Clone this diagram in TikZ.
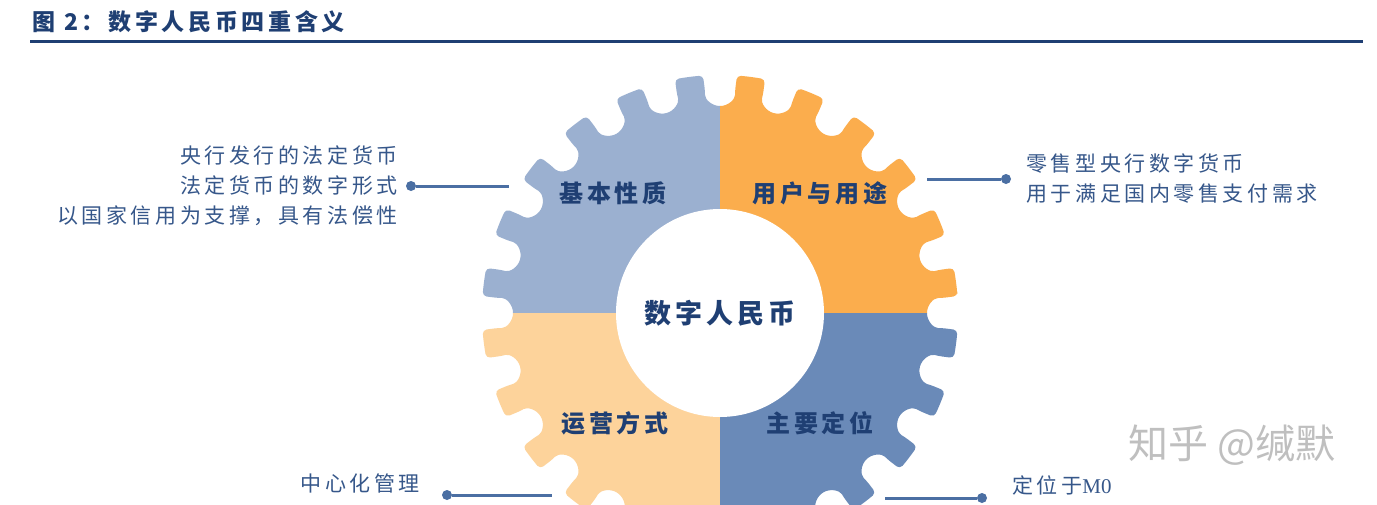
\documentclass[tikz,border=0pt]{standalone}
\usepackage{fontspec}
\usetikzlibrary{positioning,calc}
\newfontfamily\cjk{Noto Sans CJK SC}
\newfontfamily\latn{Liberation Serif}
\definecolor{qblue}{HTML}{9BB0D0}
\definecolor{qorange}{HTML}{FBAD4D}
\definecolor{qpeach}{HTML}{FDD39B}
\definecolor{qdeep}{HTML}{6A8AB8}
\definecolor{navy}{HTML}{1F3F73}
\definecolor{inkblue}{HTML}{36578A}
\definecolor{lnkblue}{HTML}{4B6FA3}
\tikzset{note/.style={inner sep=0pt, text=inkblue, font=\cjk\fontsize{21}{30}\selectfont\addfontfeature{LetterSpace=17}}}
\tikzset{tag/.style={inner sep=0pt, text=navy, font=\cjk\bfseries\fontsize{24}{28}\selectfont\addfontfeature{LetterSpace=15}}}
\tikzset{pin/.style={circle, fill=lnkblue, inner sep=0pt, minimum size=10pt}}
\tikzset{lnk/.style={draw=lnkblue, line width=3pt}}

\begin{document}
\begin{tikzpicture}[x=1pt,y=1pt]
			\useasboundingbox (0,0) rectangle (1377,-504);
			\fill[white] (0,0) rectangle (1377,-504);
			\clip (0,0) rectangle (1377,-504);
			% title
			\node[anchor=west, inner sep=0pt, text=navy, font=\cjk\bfseries\fontsize{23}{26}\selectfont\addfontfeature{LetterSpace=16}] (title) at (32,-22) {图 2：数字人民币四重含义};
			\draw[navy, line width=3pt] (30,-41) -- (1363,-41);
%
			\begin{scope}[shift={(720,-313)}]
				\clip[rounded corners=4pt] (4.1:238pt) \foreach \k in {0,...,23}{
					arc[start angle={15*\k+4.1}, end angle={15*\k+10.9}, radius=238pt]
					-- ({15*\k+11.13}:222.5pt)
					arc[start angle={15*\k-75}, end angle={15*\k-255}, radius=15pt]
					-- ({15*\k+19.1}:238pt)
				} -- cycle;
				\fill[qblue] (-250,0) rectangle (0,250);
				\fill[qorange] (0,0) rectangle (250,250);
				\fill[qpeach] (-250,0) rectangle (0,-250);
				\fill[qdeep] (0,0) rectangle (250,-250);
			\end{scope}
			\node[circle, fill=white, minimum size=208pt, inner sep=0pt, text=navy, font=\cjk\bfseries\fontsize{27}{30}\selectfont\addfontfeature{LetterSpace=15}] (core) at (720,-313) {数字人民币};
%
			\node[tag] (nature) at (613,-193) {基本性质};
			\node[tag] (usage) at (820,-193) {用户与用途};
			\node[tag] (ops) at (615,-423) {运营方式};
			\node[tag] (role) at (820,-423) {主要定位};
%
			\node[pin] (p1) at (411,-186) {};
			\coordinate (g1) at (509,-186);
			\draw[lnk] (p1) -- (g1);
			\node[note, left=8pt of p1, align=right] (t1) {央行发行的法定货币\\法定货币的数字形式\\以国家信用为支撑，具有法偿性};
%
			\node[pin] (p2) at (1006,-179) {};
			\coordinate (g2) at (927,-179);
			\draw[lnk] (g2) -- (p2);
			\node[note, right=15pt of p2, align=left] (t2) {零售型央行数字货币\\用于满足国内零售支付需求};
%
			\node[pin] (p3) at (447,-495) {};
			\coordinate (g3) at (552,-495);
			\draw[lnk] (p3) -- (g3);
			\node[note, anchor=east] (t3) at (420,-483) {中心化管理};
%
			\node[pin] (p4) at (982,-498) {};
			\coordinate (g4) at (885,-498);
			\draw[lnk] (g4) -- (p4);
			\node[note, anchor=west] (t4) at (1012,-485) {定位于{\latn\addfontfeature{LetterSpace=0}M0}};
%
			\node[inner sep=0pt, text=gray!50, font=\cjk\fontsize{40}{40}\selectfont] (mark) at (1232,-445) {知乎 @缄默};
		\end{tikzpicture}
\end{document}
